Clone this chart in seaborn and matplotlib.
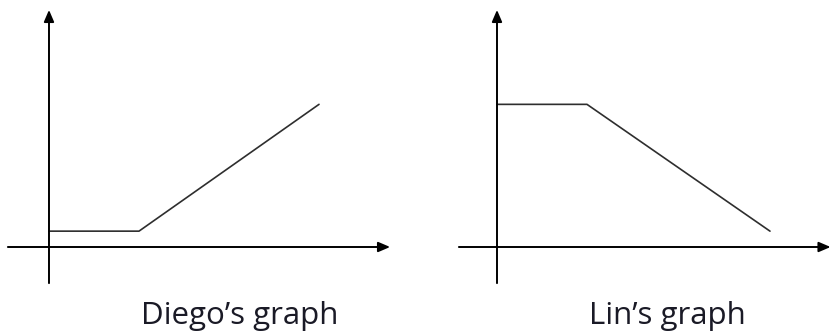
import matplotlib
matplotlib.use('Agg')
import matplotlib.pyplot as plt
import seaborn as sns
import pandas as pd

sns.set_style('white')
plt.rcParams['font.family'] = ['Open Sans', 'DejaVu Sans']

# Diego's graph: flat, then rising
diego_x = [0, 3, 9]
diego_y = [0.5, 0.5, 4.5]
# Lin's graph: flat, then falling
lin_x = [0, 3, 9.1]
lin_y = [4.5, 4.5, 0.5]
titles = ['Diego\u2019s graph', 'Lin\u2019s graph']

fig = plt.figure(figsize=(8.32, 3.36), dpi=100)

# axes boxes in figure fractions, chosen so both panels share one scale
ax1 = fig.add_axes([0, 36 / 336, 416 / 832, 300 / 336])
ax2 = fig.add_axes([416 / 832, 36 / 336, 416 / 832, 300 / 336])

panels = [
    (ax1, diego_x, diego_y, (-1.633, 12.233), (-1.37, 11.37)),
    (ax2, lin_x, lin_y, (-2.7, 11.167), (-1.27, 11.12)),
]

for ax, xs, ys, xlim, xarrow in panels:
    df = pd.DataFrame({'x': xs, 'y': ys})
    sns.lineplot(data=df, x='x', y='y', ax=ax, color='#2e2e2e', linewidth=1.2,
                 sort=False, estimator=None)
    ax.set_xlim(*xlim)
    ax.set_ylim(-1.672, 7.792)
    ax.axis('off')
    arrow = dict(arrowstyle='-|>,head_length=0.7,head_width=0.3', color='black',
                 lw=1.4, shrinkA=0, shrinkB=0)
    ax.annotate('', xy=(xarrow[1], 0), xytext=(xarrow[0], 0), arrowprops=arrow)
    ax.annotate('', xy=(0, 7.48), xytext=(0, -1.14), arrowprops=arrow)

fig.text(240 / 832, 1 - 316 / 336, titles[0], ha='center', va='center',
         fontsize=22.5, color='#1a1a26')
fig.text(667 / 832, 1 - 316 / 336, titles[1], ha='center', va='center',
         fontsize=22.5, color='#1a1a26')

fig.savefig('out.png', dpi=100)
